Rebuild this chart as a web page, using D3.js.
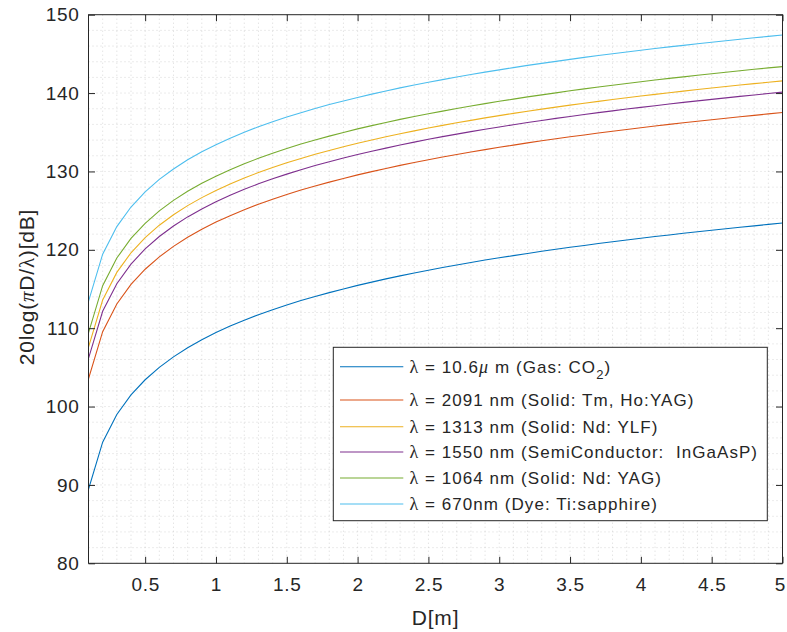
<!DOCTYPE html>
<html><head><meta charset="utf-8">
<script src="https://cdn.jsdelivr.net/npm/d3@7"></script>
<style>
html,body{margin:0;padding:0;background:#fff;}
svg{display:block;font-family:"Liberation Sans",Arial,Helvetica,sans-serif;}
text{white-space:pre;}
</style></head>
<body><svg id="c" width="787" height="632"></svg>
<script>
const D = [0.1,0.2,0.3,0.4,0.5,0.6,0.7,0.8,0.9,1.0,1.1,1.2,1.3,1.4,1.5,1.6,1.7,1.8,1.9,2.0,2.1,2.2,2.3,2.4,2.5,2.6,2.7,2.8,2.9,3.0,3.1,3.2,3.3,3.4,3.5,3.6,3.7,3.8,3.9,4.0,4.1,4.2,4.3,4.4,4.5,4.6,4.7,4.8,4.9,5.0];
const co2_10600nm = [89.44,95.46,98.98,101.48,103.42,105.00,106.34,107.50,108.52,109.44,110.27,111.02,111.72,112.36,112.96,113.52,114.05,114.54,115.01,115.46,115.88,116.29,116.67,117.04,117.40,117.74,118.06,118.38,118.69,118.98,119.26,119.54,119.81,120.07,120.32,120.56,120.80,121.03,121.26,121.48,121.69,121.90,122.11,122.31,122.50,122.69,122.88,123.06,123.24,123.42];
const tmHo_2091nm = [103.54,109.56,113.08,115.58,117.52,119.10,120.44,121.60,122.62,123.54,124.36,125.12,125.82,126.46,127.06,127.62,128.15,128.64,129.11,129.56,129.98,130.38,130.77,131.14,131.50,131.84,132.16,132.48,132.78,133.08,133.36,133.64,133.91,134.17,134.42,134.66,134.90,135.13,135.36,135.58,135.79,136.00,136.21,136.41,136.60,136.79,136.98,137.16,137.34,137.52];
const ylf_1313nm = [107.58,113.60,117.12,119.62,121.56,123.14,124.48,125.64,126.66,127.58,128.41,129.16,129.86,130.50,131.10,131.66,132.19,132.68,133.15,133.60,134.02,134.43,134.81,135.18,135.54,135.88,136.21,136.52,136.83,137.12,137.41,137.68,137.95,138.21,138.46,138.70,138.94,139.17,139.40,139.62,139.83,140.04,140.25,140.45,140.64,140.83,141.02,141.20,141.38,141.56];
const ingaasp_1550nm = [106.14,112.16,115.68,118.18,120.12,121.70,123.04,124.20,125.22,126.14,126.96,127.72,128.42,129.06,129.66,130.22,130.75,131.24,131.71,132.16,132.58,132.98,133.37,133.74,134.10,134.44,134.76,135.08,135.38,135.68,135.96,136.24,136.51,136.77,137.02,137.26,137.50,137.73,137.96,138.18,138.39,138.60,138.81,139.01,139.20,139.39,139.58,139.76,139.94,140.12];
const yag_1064nm = [109.40,115.43,118.95,121.45,123.38,124.97,126.31,127.47,128.49,129.40,130.23,130.99,131.68,132.33,132.93,133.49,134.01,134.51,134.98,135.43,135.85,136.25,136.64,137.01,137.36,137.70,138.03,138.35,138.65,138.95,139.23,139.51,139.77,140.03,140.29,140.53,140.77,141.00,141.23,141.45,141.66,141.87,142.07,142.27,142.47,142.66,142.85,143.03,143.21,143.38];
const dye_670nm = [113.42,119.44,122.96,125.46,127.40,128.99,130.32,131.48,132.51,133.42,134.25,135.01,135.70,136.35,136.94,137.50,138.03,138.53,139.00,139.44,139.87,140.27,140.66,141.03,141.38,141.72,142.05,142.37,142.67,142.96,143.25,143.53,143.79,144.05,144.30,144.55,144.79,145.02,145.24,145.46,145.68,145.89,146.09,146.29,146.49,146.68,146.86,147.05,147.23,147.40];

const seriesValues = [co2_10600nm, tmHo_2091nm, ylf_1313nm, ingaasp_1550nm, yag_1064nm, dye_670nm];
const seriesLabels = [
  ["λ"," = 10.6","μ"," m (Gas: CO","2",")"],
  ["λ"," = 2091 nm (Solid: Tm, Ho:YAG)"],
  ["λ"," = 1313 nm (Solid: Nd: YLF)"],
  ["λ"," = 1550 nm (SemiConductor:  InGaAsP)"],
  ["λ"," = 1064 nm (Solid: Nd: YAG)"],
  ["λ"," = 670nm (Dye: Ti:sapphire)"]
];
const colors = ["#0072BD","#D95319","#EDB120","#7E2F8E","#77AC30","#4DBEEE"];
const xTicks = [0.5,1,1.5,2,2.5,3,3.5,4,4.5,5];
const yTicks = [80,90,100,110,120,130,140,150];
const xDomain = [0.1,5];
const yDomain = [80,150];

const svg = d3.select("#c");
const L = 88.5, R = 782.5, T = 14.7, B = 563.3;
const x = d3.scaleLinear().domain(xDomain).range([L,R]);
const y = d3.scaleLinear().domain(yDomain).range([B,T]);
const ink = "#262626";

// minor grid (dotted)
const g = svg.append("g");
const xMinor = d3.range(2,50).map(i => +(i/10).toFixed(1));
const yMinor = d3.range(82,150,2);
g.selectAll(".gx").data(xMinor).enter().append("line")
  .attr("x1",d=>x(d)).attr("x2",d=>x(d)).attr("y1",T).attr("y2",B)
  .attr("stroke","#bdbdbd").attr("stroke-width",0.6).attr("stroke-dasharray","1,3");
g.selectAll(".gy").data(yMinor).enter().append("line")
  .attr("y1",d=>y(d)).attr("y2",d=>y(d)).attr("x1",L).attr("x2",R)
  .attr("stroke","#bdbdbd").attr("stroke-width",0.6).attr("stroke-dasharray","1,3");

// lines
const line = d3.line().x((d,i)=>x(D[i])).y(d=>y(d));
svg.append("clipPath").attr("id","pc").append("rect")
  .attr("x",L).attr("y",T).attr("width",R-L).attr("height",B-T);
svg.append("g").attr("clip-path","url(#pc)").selectAll("path").data(seriesValues).enter().append("path")
  .attr("d",line).attr("fill","none").attr("stroke",(d,i)=>colors[i]).attr("stroke-width",1.1);

// axes
const ax = svg.append("g");
const tickLen = 6.5;
const xb = d3.axisBottom(x).tickValues(xTicks).tickSizeInner(-tickLen).tickSizeOuter(0).tickPadding(14).tickFormat(d3.format("~g"));
const xt = d3.axisTop(x).tickValues(xTicks).tickSizeInner(-tickLen).tickSizeOuter(0).tickFormat("");
const yl = d3.axisLeft(y).tickValues(yTicks).tickSizeInner(-tickLen).tickSizeOuter(0).tickPadding(9);
const yr = d3.axisRight(y).tickValues(yTicks).tickSizeInner(-tickLen).tickSizeOuter(0).tickFormat("");
function style(sel){
  sel.selectAll(".domain").remove();
  sel.selectAll("line").attr("stroke",ink).attr("stroke-width",1);
  sel.selectAll("text").attr("fill",ink).attr("font-size","19px").attr("letter-spacing","0.7px")
    .attr("font-family","Liberation Sans, Arial, sans-serif");
}
const xAxisG = ax.append("g").attr("transform",`translate(0,${B})`).call(xb).call(style);
// keep the last label inside the window
xAxisG.selectAll(".tick text").filter(d=>d===xDomain[1]).attr("dx","-2.5");
ax.append("g").attr("transform",`translate(0,${T})`).call(xt).call(style);
ax.append("g").attr("transform",`translate(${L},0)`).call(yl).call(style);
ax.append("g").attr("transform",`translate(${R},0)`).call(yr).call(style);
ax.append("rect").attr("x",L).attr("y",T).attr("width",R-L).attr("height",B-T)
  .attr("fill","none").attr("stroke",ink).attr("stroke-width",1);

// axis labels
svg.append("text").attr("x",(L+R)/2).attr("y",625).attr("text-anchor","middle")
  .attr("fill",ink).attr("font-size","21px").attr("letter-spacing","0.8px").text("D[m]");
const yLab = svg.append("text").attr("transform",`translate(34,${(T+B)/2 - 2}) rotate(-90)`)
  .attr("text-anchor","middle").attr("fill",ink).attr("font-size","21px").attr("letter-spacing","0.8px");
yLab.append("tspan").text("20log(");
yLab.append("tspan").attr("font-family","Liberation Serif, serif").attr("font-style","italic").text("π");
yLab.append("tspan").text("D/");
yLab.append("tspan").attr("font-family","Liberation Serif, serif").text("λ");
yLab.append("tspan").text(")[dB]");

// legend
const lg = svg.append("g");
const lgX = 333.3, lgY = 347.3, lgW = 434, lgH = 173.4;
lg.append("rect").attr("x",lgX).attr("y",lgY).attr("width",lgW).attr("height",lgH)
  .attr("fill","#fff").attr("stroke",ink).attr("stroke-width",1);
const rowY = [366.7,400,426.7,452,478,504];
seriesLabels.forEach((parts,i)=>{
  lg.append("line").attr("x1",340).attr("x2",403.3).attr("y1",rowY[i]).attr("y2",rowY[i])
    .attr("stroke",colors[i]).attr("stroke-width",1.1);
  const t = lg.append("text").attr("x",409.5).attr("y",rowY[i]+6).attr("fill",ink)
    .attr("font-size","17px").attr("letter-spacing","1.05px");
  parts.forEach((p,k)=>{
    const s = t.append("tspan").text(p);
    if (p==="λ") s.attr("font-family","Liberation Serif, serif").attr("font-size","18px");
    if (p==="μ") s.attr("font-family","Liberation Serif, serif").attr("font-style","italic").attr("font-size","18px");
    if (i===0 && k===4) s.attr("font-size","13px").attr("dy","6");
    if (i===0 && k===5) s.attr("dy","-6");
  });
});
</script></body></html>
